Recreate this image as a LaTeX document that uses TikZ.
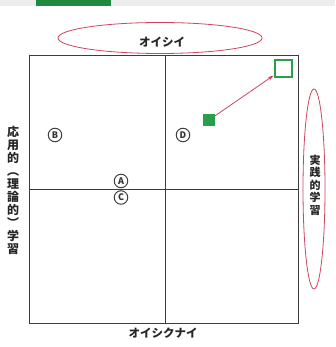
\documentclass[tikz,border=0pt]{standalone}
\usepackage{fontspec}
\newfontfamily\jp{Noto Sans CJK JP}
\usetikzlibrary{arrows.meta,shapes.geometric}
\definecolor{ered}{RGB}{205,70,95}
\definecolor{gsq}{RGB}{40,160,75}
\definecolor{lgray}{RGB}{60,60,60}
\tikzset{
  lab/.style={font=\jp\bfseries\fontsize{11.5}{11.5}\selectfont, text=black!85, inner sep=0pt},
  circ/.style={circle, draw=black!75, line width=1pt, fill=white, minimum size=13.5pt, inner sep=0pt,
     font=\jp\bfseries\fontsize{9}{9}\selectfont, text=black!80},
  vtext/.style={font=\jp\bfseries\fontsize{11}{12.5}\selectfont, text=black!85, align=center, inner sep=0pt},
  oval/.style={ellipse, draw=ered, line width=0.8pt},
}
\begin{document}
\begin{tikzpicture}[x=1pt,y=-1pt]
\useasboundingbox (0,0) rectangle (335,347);
\fill[gray!15] (0,0) rectangle (335,6);
\fill[gsq!85!black] (36,0) rectangle (111,6);
% frame
\draw[lgray, line width=0.8pt] (29,55) rectangle (298,323);
\coordinate (vt) at (165,55); \coordinate (vb) at (165,323);
\coordinate (hl) at (29,189); \coordinate (hr) at (298,189);
\draw[lgray, line width=0.8pt] (vt) -- (vb);
\draw[lgray, line width=0.8pt] (hl) -- (hr);
% top oval
\node[oval, minimum width=204pt, minimum height=31pt] (top) at (160,38) {};
\node[lab] (toplab) at (162,42) {オイシイ};
% right oval
\node[oval, minimum width=22pt, minimum height=200pt] (right) at (314,189) {};
\node[vtext] (rlab) at (315,185) {実\\践\\的\\学\\習};
% left text
\node[vtext, font=\jp\bfseries\fontsize{12}{13}\selectfont] (llab) at (13,190) {応\\用\\的\\︵\\理\\論\\的\\︶\\学\\習};
% bottom
\node[lab] (bot) at (163,333) {オイシクナイ};
% circled letters
\node[circ] (B) at (55,135) {B};
\node[circ] (D) at (183,135) {D};
\node[circ] (C) at (121,197.5) {C};
\node[circ] (A) at (121,181) {A};
% squares
\node[fill=gsq, minimum size=12pt, inner sep=0pt] (s1) at (209,120) {};
\node[draw=gsq, line width=2pt, minimum size=17pt, inner sep=0pt] (s2) at (283,69) {};
\draw[ered, line width=0.8pt, -{Stealth[length=6pt,width=4pt]}] (s1) -- (s2);
\end{tikzpicture}
\end{document}
